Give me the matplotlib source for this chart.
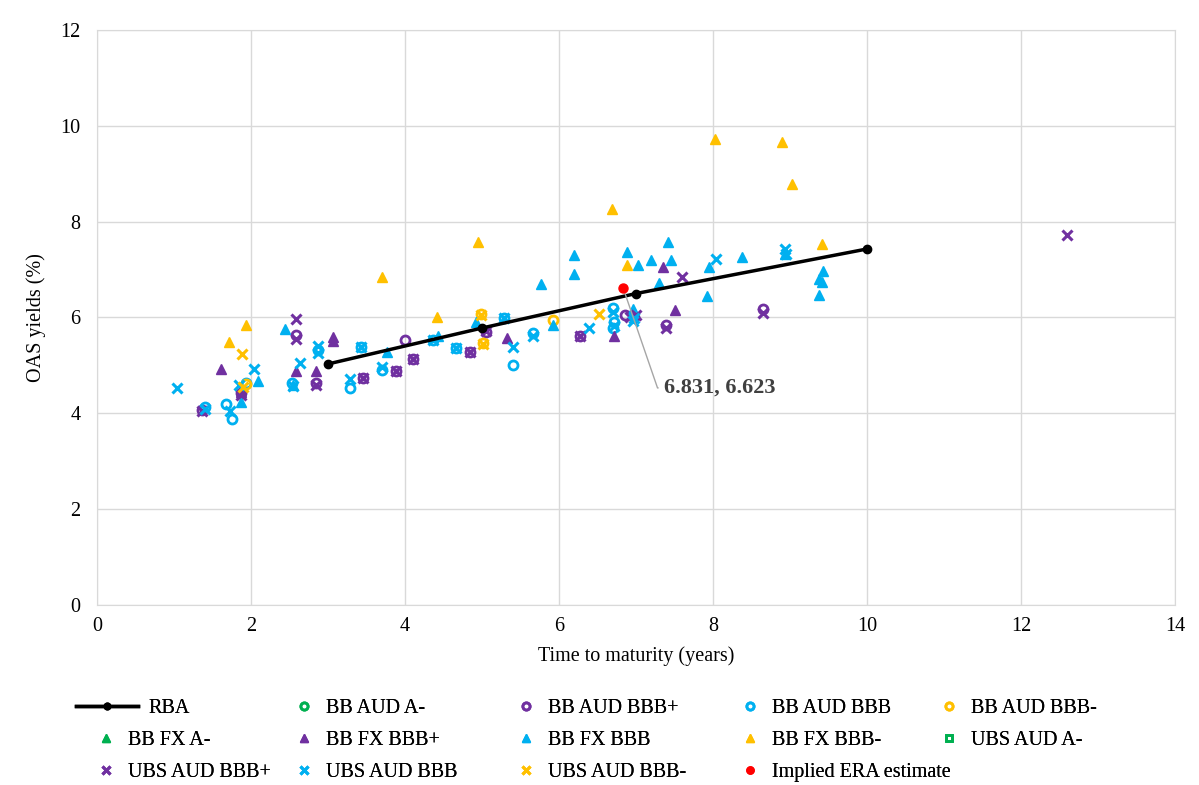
import matplotlib
matplotlib.use("Agg")
import matplotlib.pyplot as plt
from matplotlib.lines import Line2D

plt.rcParams['font.family'] = ['Liberation Serif', 'DejaVu Serif']

PURPLE = '#7030A0'
CYAN = '#00B0F0'
YELLOW = '#FFC000'
GREEN = '#00B050'
RED = '#FF0000'

# RBA benchmark line
rba_x = [3, 5, 7, 10]
rba_y = [5.03, 5.78, 6.50, 7.43]

# Bloomberg AUD bonds (circles)
bb_aud_bbbp_x = [1.36, 1.87, 2.58, 2.84, 3.45, 3.88, 4.00, 4.11, 4.84, 5.05, 6.27, 6.86, 6.97, 7.39, 8.65]
bb_aud_bbbp_y = [4.07, 4.43, 5.64, 4.63, 4.74, 4.89, 5.53, 5.13, 5.28, 5.70, 5.62, 6.05, 6.00, 5.85, 6.18]

bb_aud_bbb_x = [1.40, 1.68, 1.75, 1.94, 2.53, 2.87, 3.29, 3.43, 3.70, 4.36, 4.66, 5.29, 5.40, 5.66, 6.70, 6.71, 6.70]
bb_aud_bbb_y = [4.13, 4.20, 3.88, 4.63, 4.63, 5.32, 4.53, 5.39, 4.90, 5.53, 5.36, 5.99, 5.01, 5.68, 6.20, 5.90, 5.78]

bb_aud_bbbm_x = [1.93, 4.99, 5.01, 5.92]
bb_aud_bbbm_y = [4.62, 6.08, 5.47, 5.95]

# Bloomberg FX bonds (triangles)
bb_fx_bbbp_x = [1.61, 1.87, 2.58, 2.84, 3.06, 3.06, 5.32, 6.71, 7.35, 7.51]
bb_fx_bbbp_y = [4.93, 4.45, 4.89, 4.89, 5.60, 5.50, 5.57, 5.62, 7.06, 6.16]

bb_fx_bbb_x = [1.87, 2.09, 2.44, 2.55, 3.77, 4.43, 4.92, 5.77, 5.92, 6.19, 6.19, 6.88, 6.96,
               7.03, 7.20, 7.30, 7.42, 7.45, 7.92, 7.95, 8.38, 8.94, 9.38, 9.41, 9.43, 9.38]
bb_fx_bbb_y = [4.24, 4.68, 5.76, 4.60, 5.28, 5.62, 5.91, 6.70, 5.85, 7.31, 6.91, 7.37, 6.18,
               7.10, 7.20, 6.72, 7.58, 7.20, 6.45, 7.06, 7.27, 7.33, 6.80, 6.74, 6.97, 6.47]

bb_fx_bbbm_x = [1.71, 1.94, 3.70, 4.42, 4.95, 6.69, 6.88, 8.03, 8.90, 9.03, 9.42]
bb_fx_bbbm_y = [5.49, 5.85, 6.85, 6.00, 7.58, 8.27, 7.10, 9.73, 9.67, 8.79, 7.54]

# UBS AUD bonds (crosses)
ubs_aud_bbbp_x = [1.36, 1.87, 2.58, 2.58, 2.84, 3.45, 3.88, 4.11, 4.84, 5.05, 6.27, 6.92, 7.00, 7.39, 7.60, 8.65, 12.60]
ubs_aud_bbbp_y = [4.05, 4.38, 5.97, 5.55, 4.60, 4.74, 4.89, 5.13, 5.28, 5.72, 5.62, 6.00, 6.05, 5.78, 6.85, 6.10, 7.73]

ubs_aud_bbb_x = [1.04, 1.40, 1.73, 1.84, 2.04, 2.55, 2.64, 2.87, 2.87, 3.29, 3.43, 3.70, 4.36,
                 4.66, 5.29, 5.40, 5.66, 6.39, 6.70, 6.71, 6.96, 6.98, 8.04, 8.93, 8.95]
ubs_aud_bbb_y = [4.53, 4.08, 4.05, 4.59, 4.93, 4.57, 5.05, 5.41, 5.25, 4.72, 5.39, 4.97, 5.53,
                 5.36, 5.99, 5.39, 5.62, 5.78, 6.12, 5.82, 5.93, 5.98, 7.22, 7.43, 7.33]

ubs_aud_bbbm_x = [1.88, 1.90, 4.99, 5.01, 6.52]
ubs_aud_bbbm_y = [5.24, 4.55, 6.06, 5.45, 6.07]

era_x = [6.831]
era_y = [6.623]

fig = plt.figure(figsize=(11.99, 7.85), dpi=100)
ax = fig.add_axes([0.0809, 0.2293, 0.8991, 0.7325])

circ = dict(marker='o', linestyle='none', markersize=6.5, markerfacecolor='none', markeredgewidth=2)
tri = dict(marker='^', linestyle='none', markersize=6.5)
cross = dict(marker='x', linestyle='none', markersize=7.5, markeredgewidth=2.2)

ax.plot(rba_x, rba_y, color='black', linewidth=2.5, marker='o', markersize=6, label='RBA', zorder=3)
ax.plot([], [], color=GREEN, markeredgecolor=GREEN, label='BB AUD A-', **circ)
ax.plot(bb_aud_bbbp_x, bb_aud_bbbp_y, markeredgecolor=PURPLE, label='BB AUD BBB+', **circ)
ax.plot(bb_aud_bbb_x, bb_aud_bbb_y, markeredgecolor=CYAN, label='BB AUD BBB', **circ)
ax.plot(bb_aud_bbbm_x, bb_aud_bbbm_y, markeredgecolor=YELLOW, label='BB AUD BBB-', **circ)
ax.plot([], [], color=GREEN, label='BB FX A-', **tri)
ax.plot(bb_fx_bbbp_x, bb_fx_bbbp_y, color=PURPLE, label='BB FX BBB+', **tri)
ax.plot(bb_fx_bbb_x, bb_fx_bbb_y, color=CYAN, label='BB FX BBB', **tri)
ax.plot(bb_fx_bbbm_x, bb_fx_bbbm_y, color=YELLOW, label='BB FX BBB-', **tri)
ax.plot([], [], marker='s', linestyle='none', markersize=6, markerfacecolor='none',
        markeredgecolor=GREEN, markeredgewidth=2, label='UBS AUD A-')
ax.plot(ubs_aud_bbbp_x, ubs_aud_bbbp_y, color=PURPLE, label='UBS AUD BBB+', **cross)
ax.plot(ubs_aud_bbb_x, ubs_aud_bbb_y, color=CYAN, label='UBS AUD BBB', **cross)
ax.plot(ubs_aud_bbbm_x, ubs_aud_bbbm_y, color=YELLOW, label='UBS AUD BBB-', **cross)
ax.plot(era_x, era_y, color=RED, marker='o', linestyle='none', markersize=6.5,
        label='Implied ERA estimate', zorder=4)

ax.annotate(f'{era_x[0]:.3f}, {era_y[0]:.3f}', xy=(era_x[0], era_y[0]), xytext=(7.36, 4.53),
            fontsize=16, fontweight='bold', color='#404040', va='center', ha='left',
            arrowprops=dict(arrowstyle='-', color='#A6A6A6', linewidth=1,
                            connectionstyle='angle,angleA=0,angleB=-71,rad=0',
                            relpos=(0, 0.5), shrinkA=2, shrinkB=3))

ax.set_xlim(0, 14)
ax.set_ylim(0, 12)
ax.set_xticks(range(0, 15, 2))
ax.set_yticks(range(0, 13, 2))
ax.grid(True, color='#D9D9D9', linewidth=1)
ax.set_axisbelow(True)
for s in ax.spines.values():
    s.set_color('#D9D9D9')
ax.tick_params(length=0, labelsize=14.5, colors='#000000')
ax.tick_params(axis='y', pad=12)
ax.tick_params(axis='x', pad=9)
ax.set_xlabel('Time to maturity (years)', fontsize=14.5, labelpad=7)
ax.set_ylabel('OAS yields (%)', fontsize=14.5, labelpad=10)

# legend laid out row by row, one legend per column (the RBA line entry gets a longer handle)
handles, labels = ax.get_legend_handles_labels()
blank = Line2D([], [], linestyle='none')
columns = [
    (0.055, [handles[0]], [labels[0]], 3.1),
    (0.070, [blank, handles[5], handles[10]], [' ', labels[5], labels[10]], 1.2),
]
col_x = [0.235, 0.420, 0.607, 0.773]
for c in range(1, 5):
    idx = list(range(c, len(handles), 5))
    columns.append((col_x[c - 1], [handles[i] for i in idx], [labels[i] for i in idx], 1.2))

for x0, hs, ls, hl in columns:
    leg = fig.legend(hs, ls, loc='upper left', bbox_to_anchor=(x0, 0.122), frameon=False,
                     fontsize=14.5, handlelength=hl, handletextpad=0.5,
                     labelspacing=0.62, borderpad=0, markerscale=0.8)
    fig.add_artist(leg)

fig.savefig('out.png', dpi=100)
